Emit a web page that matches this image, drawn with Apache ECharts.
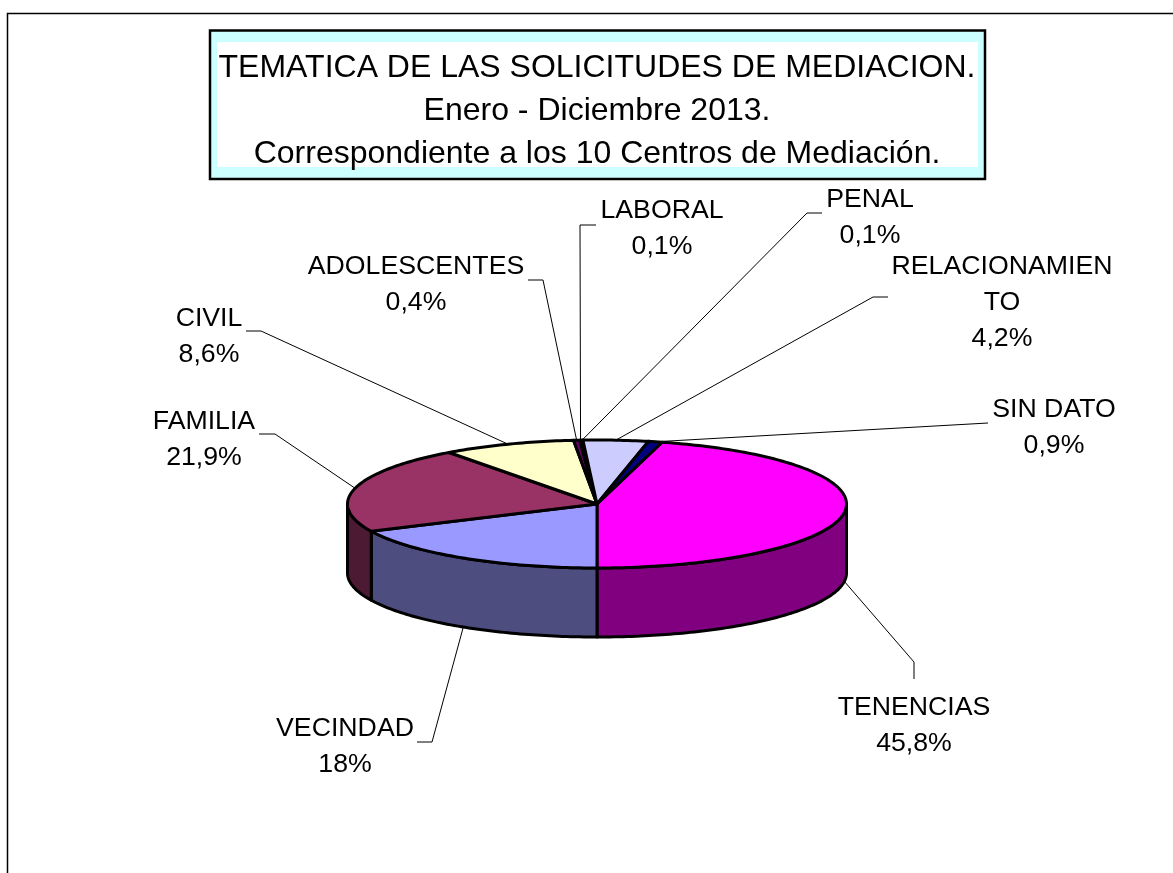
<!DOCTYPE html>
<html>
<head>
<meta charset="utf-8">
<title>Tematica de las solicitudes de mediacion</title>
<style>
  html, body { margin: 0; padding: 0; background: #fff; }
  #chart { width: 1173px; height: 873px; }
</style>
<script src="https://cdn.jsdelivr.net/npm/echarts@6/dist/echarts.min.js"></script>
</head>
<body>
<div id="chart"></div>
<script>
// Slices, clockwise from the first one drawn
const categories = ["TENENCIAS", "VECINDAD", "FAMILIA", "CIVIL", "ADOLESCENTES", "LABORAL", "PENAL", "RELACIONAMIEN\nTO", "SIN DATO"];
const percentages = [45.8, 18, 21.9, 8.6, 0.4, 0.1, 0.1, 4.2, 0.9];
const sliceColors = ["#FF00FF", "#9999FF", "#993366", "#FFFFCC", "#660066", "#FF8080", "#0066CC", "#CCCCFF", "#000080"];
const titleLines = ["TEMATICA DE LAS SOLICITUDES DE MEDIACION.", "Enero - Diciembre 2013.", "Correspondiente a los 10 Centros de Mediación."];

// Label centre and the two outer points of each leader line, by slice
const labelCenters = [[914, 726], [345, 747], [204, 440], [209, 337], [416, 285], [662, 229], [870, 218], [1002, 303], [1054, 428]];
const leaderStubs = [
  [[914, 679], [914, 662]],
  [[417, 742], [432, 742]],
  [[259, 434], [275, 434]],
  [[246, 331], [261, 331]],
  [[528, 280], [543, 280]],
  [[596, 225], [580, 225]],
  [[822, 213], [807, 213]],
  [[888, 297], [873, 297]],
  [[988, 423], [988, 423]],
];

const FONT = "Liberation Sans, Arial, sans-serif";
const CX = 597;
const CY = 504;
const RX = 249.5;
const RY = 64;
const DEPTH = 69;
const FIRST_ANGLE = 15.12;

// Cumulative start/end angle of each slice, in degrees clockwise from the top
const sliceAngles = [];
let running = FIRST_ANGLE;
percentages.forEach(function (p) {
  const sweep = (p / 100) * 360;
  sliceAngles.push([running, running + sweep]);
  running += sweep;
});

function rimPoint(angle, drop) {
  const rad = (angle * Math.PI) / 180;
  return [CX + RX * Math.sin(rad), CY - RY * Math.cos(rad) + drop];
}

function arcPoints(from, to, drop) {
  const pts = [];
  const steps = Math.max(2, Math.ceil(Math.abs(to - from)));
  for (let i = 0; i <= steps; i++) {
    pts.push(rimPoint(from + ((to - from) * i) / steps, drop));
  }
  return pts;
}

function darken(hex) {
  const n = parseInt(hex.slice(1), 16);
  const half = function (c) { return Math.round(c / 2); };
  return "rgb(" + half((n >> 16) & 255) + "," + half((n >> 8) & 255) + "," + half(n & 255) + ")";
}

function labelText(i) {
  return categories[i] + "\n" + String(percentages[i]).replace(".", ",") + "%";
}

function renderWall(params, api) {
  const i = api.value(0);
  // only the front half of the rim is visible (90 to 270 degrees)
  const from = Math.max(sliceAngles[i][0], 90);
  const to = Math.min(sliceAngles[i][1], 270);
  if (from >= to) return null;
  return {
    type: "polygon",
    shape: { points: arcPoints(from, to, 0).concat(arcPoints(to, from, DEPTH)) },
    style: { fill: darken(sliceColors[i]), stroke: "#000", lineWidth: 3, lineJoin: "round" },
  };
}

function renderTop(params, api) {
  const i = api.value(0);
  return {
    type: "polygon",
    shape: { points: [[CX, CY]].concat(arcPoints(sliceAngles[i][0], sliceAngles[i][1], 0)) },
    style: { fill: sliceColors[i], stroke: "#000", lineWidth: 3, lineJoin: "round" },
  };
}

function renderLabel(params, api) {
  const i = api.value(0);
  const mid = (sliceAngles[i][0] + sliceAngles[i][1]) / 2;
  const isFront = Math.cos((mid * Math.PI) / 180) < 0;
  const anchor = rimPoint(mid, isFront ? DEPTH : 0);
  return {
    type: "group",
    children: [
      {
        type: "polyline",
        shape: { points: leaderStubs[i].concat([anchor]) },
        style: { fill: null, stroke: "#000", lineWidth: 1 },
      },
      {
        type: "text",
        x: labelCenters[i][0],
        y: labelCenters[i][1],
        style: {
          text: labelText(i),
          fill: "#000",
          font: "26.7px " + FONT,
          lineHeight: 36,
          align: "center",
          verticalAlign: "middle",
        },
      },
    ],
  };
}

const sliceData = percentages.map(function (p, i) { return [i, p]; });

const chart = echarts.init(document.getElementById("chart"));
chart.setOption({
  animation: false,
  backgroundColor: "#fff",
  title: {
    text: titleLines.join("\n"),
    left: 597,
    top: 47,
    textAlign: "center",
    padding: 0,
    z: 10,
    textStyle: { fontFamily: FONT, fontSize: 32, fontWeight: "normal", color: "#000", lineHeight: 43 },
  },
  graphic: [
    {
      type: "rect",
      z: 1,
      shape: { x: 7.5, y: 13.5, width: 1300, height: 1000 },
      style: { fill: null, stroke: "#000", lineWidth: 1.5 },
    },
    {
      type: "rect",
      z: 1,
      shape: { x: 210, y: 30.5, width: 775, height: 148.5 },
      style: { fill: "#CCFFFF", stroke: "#000", lineWidth: 2.5 },
    },
    {
      type: "rect",
      z: 2,
      shape: { x: 217, y: 42, width: 761, height: 125 },
      style: { fill: "#fff" },
    },
  ],
  series: [
    { type: "custom", coordinateSystem: "none", z: 3, silent: true, data: sliceData, renderItem: renderLabel },
    { type: "custom", coordinateSystem: "none", z: 4, silent: true, data: sliceData, renderItem: renderWall },
    { type: "custom", coordinateSystem: "none", z: 5, silent: true, data: sliceData, renderItem: renderTop },
  ],
});

window.addEventListener("resize", function () {
  chart.resize();
});
</script>
</body>
</html>
